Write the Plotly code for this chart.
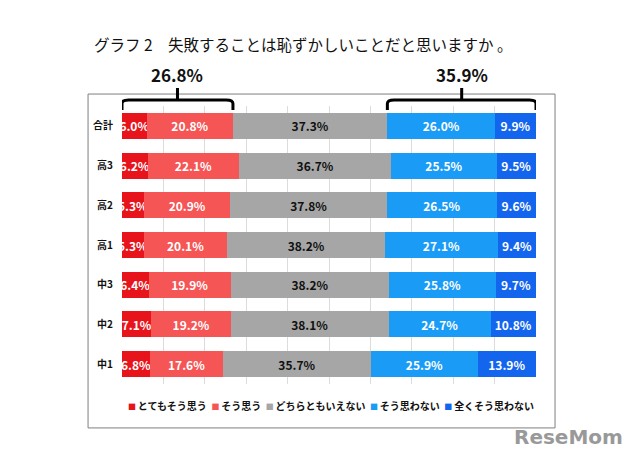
import plotly.graph_objects as go

categories = ["合計", "高3", "高2", "高1", "中3", "中2", "中1"]
series_names = ["とてもそう思う", "そう思う", "どちらともいえない", "そう思わない", "全くそう思わない"]
v_strong_yes = [6.0, 6.2, 5.3, 5.3, 6.4, 7.1, 6.8]
v_yes = [20.8, 22.1, 20.9, 20.1, 19.9, 19.2, 17.6]
v_neutral = [37.3, 36.7, 37.8, 38.2, 38.2, 38.1, 35.7]
v_no = [26.0, 25.5, 26.5, 27.1, 25.8, 24.7, 25.9]
v_strong_no = [9.9, 9.5, 9.6, 9.4, 9.7, 10.8, 13.9]
title_text = "グラフ 2　失敗することは恥ずかしいことだと思いますか 。"

colors = ["#E8141B", "#F55555", "#A6A6A6", "#1A9BF5", "#1465EE"]
text_colors = ["white", "white", "#111111", "white", "white"]
all_vals = [v_strong_yes, v_yes, v_neutral, v_no, v_strong_no]

FONT = "Noto Sans CJK JP"
fig = go.Figure()
for name, vals, c, tc in zip(series_names, all_vals, colors, text_colors):
    fig.add_trace(go.Bar(
        y=categories, x=vals, name=name, orientation="h",
        marker=dict(color=c, line=dict(width=0)),
        text=[f"{v:.1f}%" for v in vals], textposition="inside", textangle=0,
        insidetextanchor="middle", constraintext="none",
        textfont=dict(color=tc, size=12, family=FONT, weight="bold"),
        hoverinfo="skip", showlegend=False,
    ))

# bracket values from 合計
left_sum = v_strong_yes[0] + v_yes[0]
right_sum = v_no[0] + v_strong_no[0]
right_start = 100 - right_sum

def bracket(x0, x1):
    yb, yt, ytick = 0.986, 1.022, 1.065
    r = 1.6
    mid = (x0 + x1) / 2
    return (f"M {x0},{yb} L {x0},{yt-0.013} Q {x0},{yt} {x0+r},{yt} "
            f"L {x1-r},{yt} Q {x1},{yt} {x1},{yt-0.013} L {x1},{yb} "
            f"M {mid},{yt} L {mid},{ytick}")

shapes = [
    dict(type="rect", xref="paper", yref="paper", x0=-0.082, x1=1.046, y0=-0.158, y1=1.043,
         line=dict(color="#7F7F7F", width=1), fillcolor="rgba(0,0,0,0)", layer="below"),
    dict(type="path", xref="x", yref="paper", path=bracket(0, left_sum),
         line=dict(color="black", width=3)),
    dict(type="path", xref="x", yref="paper", path=bracket(right_start, 100),
         line=dict(color="black", width=3)),
]

legend_html = "&nbsp;&nbsp;".join(
    f"<span style='color:{c};font-size:8px'>■ </span>{n}" for n, c in zip(series_names, colors)
)

annotations = [
    dict(text=title_text, xref="paper", yref="paper", x=-0.072, y=1.222, xanchor="left",
         yanchor="middle", showarrow=False, font=dict(size=15.5, family=FONT, color="#111111")),
    dict(text=f"{left_sum:.1f}%", xref="x", yref="paper", x=left_sum / 2, y=1.112,
         yanchor="middle", showarrow=False,
         font=dict(size=17, family=FONT, color="#111111", weight="bold")),
    dict(text=f"{right_sum:.1f}%", xref="x", yref="paper", x=right_start + right_sum / 2, y=1.112,
         yanchor="middle", showarrow=False,
         font=dict(size=17, family=FONT, color="#111111", weight="bold")),
    dict(text=legend_html, xref="paper", yref="paper", x=0.505, y=-0.076, xanchor="center",
         yanchor="middle", showarrow=False,
         font=dict(size=10, family=FONT, color="#111111", weight="bold")),
    dict(text="<b>ReseMom</b>", xref="paper", yref="paper", x=1.215, y=-0.19, xanchor="right",
         yanchor="middle", showarrow=False, font=dict(size=20, family="DejaVu Sans", color="#999999")),
]

fig.update_layout(
    width=640, height=459,
    margin=dict(l=122, r=104, t=106, b=75, autoexpand=False),
    barmode="stack", bargap=0.345,
    paper_bgcolor="white", plot_bgcolor="white",
    showlegend=False,
    xaxis=dict(range=[0, 100], dtick=10, showgrid=True, gridcolor="#DCDCDC", gridwidth=1,
               showticklabels=False, zeroline=False, fixedrange=True, automargin=False),
    yaxis=dict(categoryorder="array", categoryarray=categories, autorange="reversed",
               tickfont=dict(size=10, family=FONT, color="#111111", weight="bold"),
               ticks="", ticklabelstandoff=8, showgrid=False, automargin=False),
    shapes=shapes, annotations=annotations,
    uniformtext=dict(mode=False),
)
fig.write_html("out.html", config={"displayModeBar": False},
               post_script="document.body.style.margin='0';")
